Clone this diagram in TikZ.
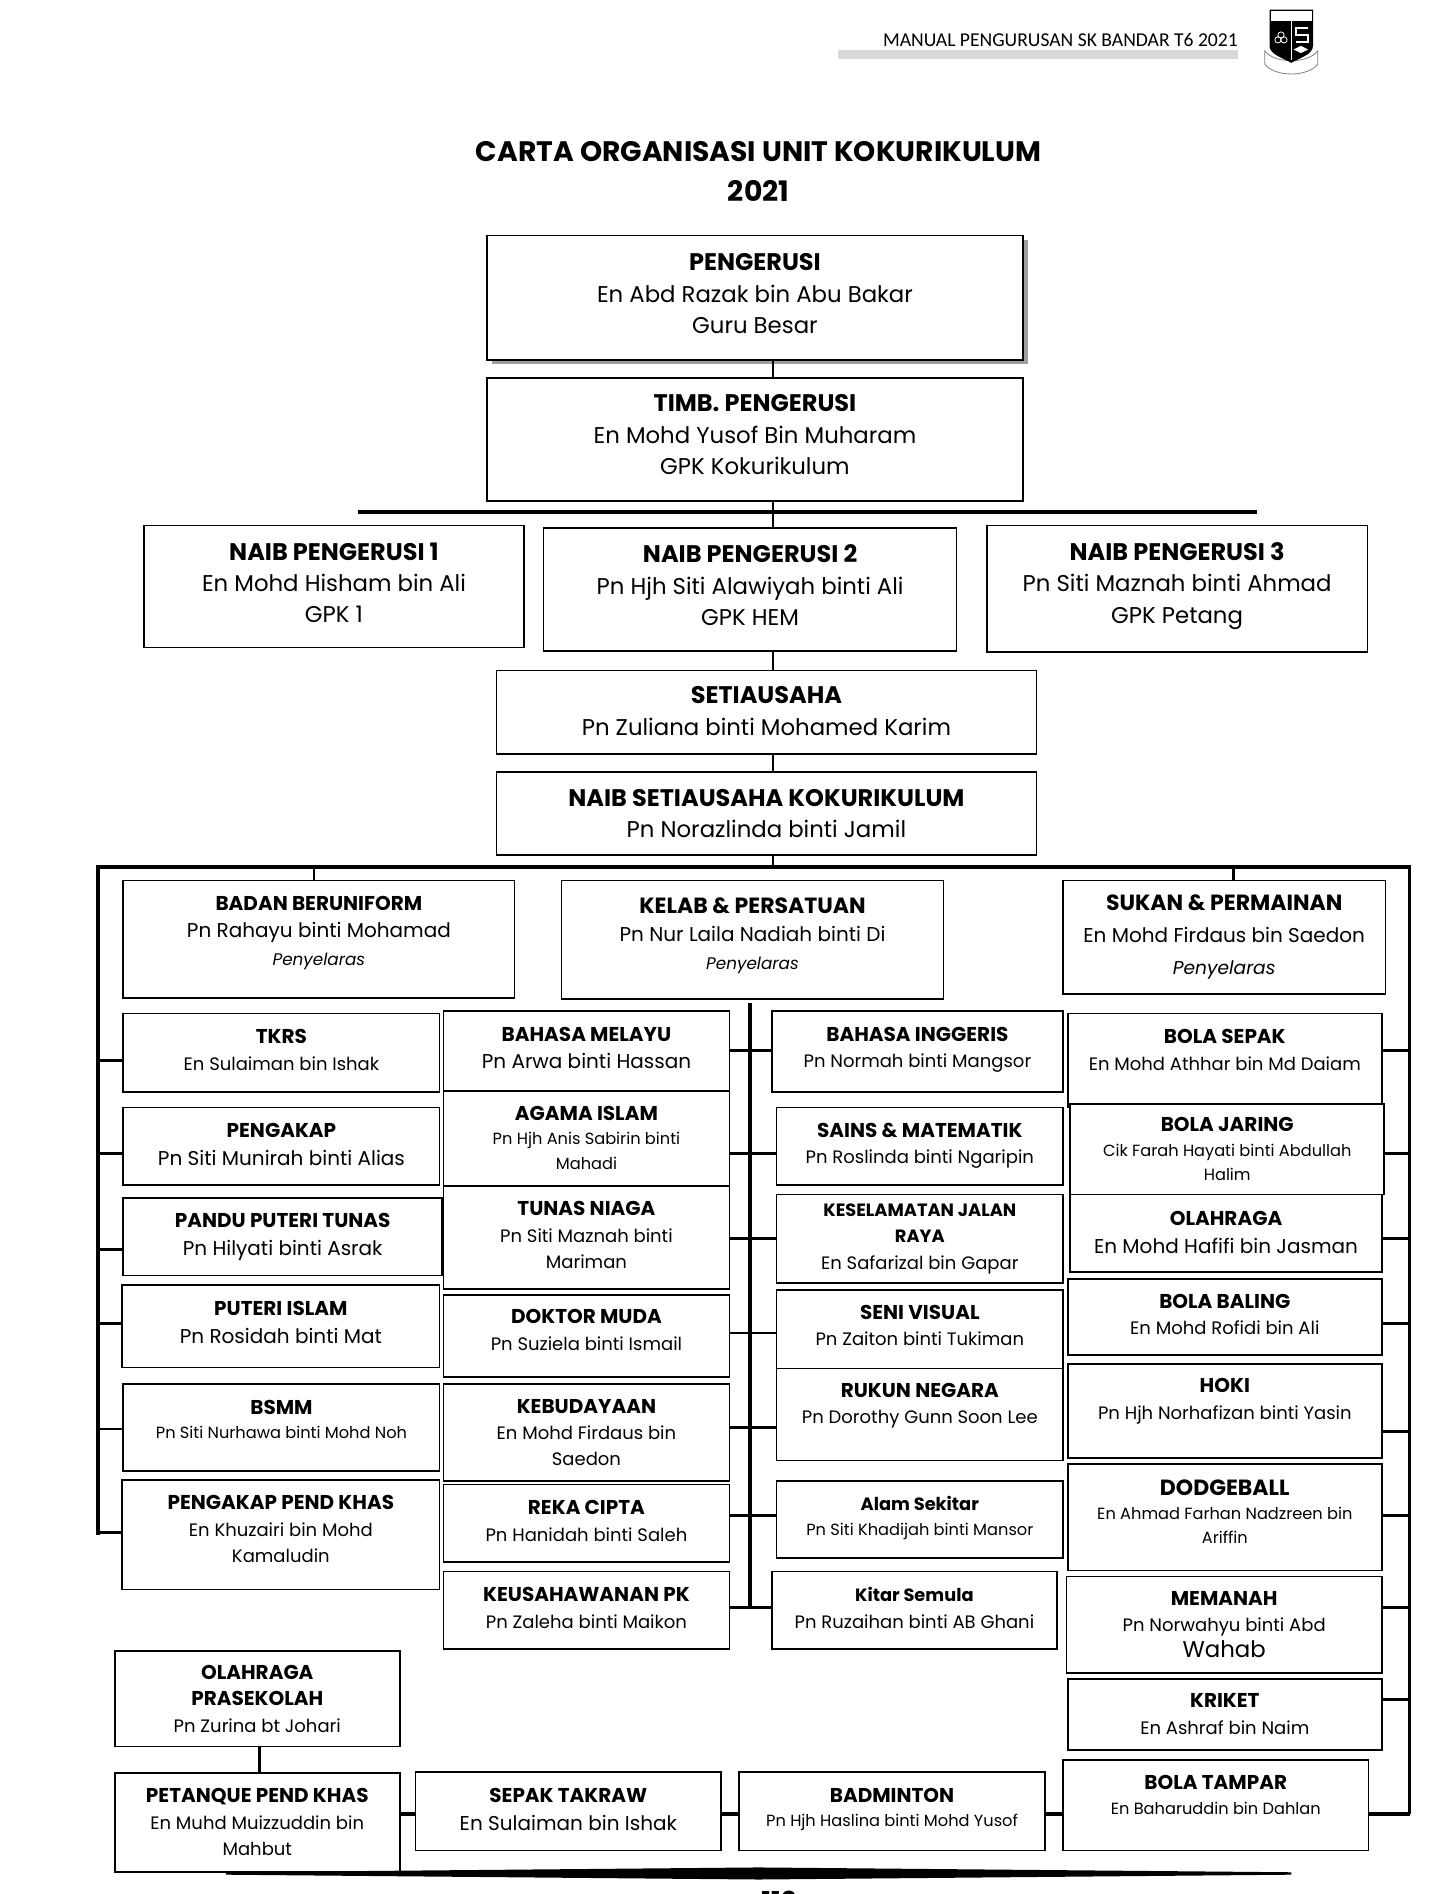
\documentclass[tikz,border=0pt]{standalone}
\usepackage{fontspec}
\usepackage{xcolor}
\usetikzlibrary{shadows}
\setmainfont{Poppins}
\newfontfamily\headfont{Carlito}
\newdimen\pxunit
\pxunit=0.6038pt
\newcommand{\hdS}[1]{{\fontsize{8.9pt}{13pt}\selectfont\bfseries #1}}
\newcommand{\hd}[1]{{\fontsize{10pt}{13pt}\selectfont\bfseries #1}}
\newcommand{\hdL}[1]{{\fontsize{11pt}{13pt}\selectfont\bfseries #1}}
\newcommand{\hdT}[1]{{\fontsize{12pt}{13pt}\selectfont\bfseries #1}}
\newcommand{\role}[1]{{\fontsize{8.4pt}{11pt}\selectfont\itshape #1}}
\newcommand{\roleL}[1]{{\fontsize{9.3pt}{11pt}\selectfont\itshape #1}}
\newcommand{\nameL}[1]{{\fontsize{11.4pt}{13pt}\selectfont #1}}
\definecolor{shadowgray}{HTML}{9E9E9E}
\definecolor{ribbongray}{HTML}{D9D9D9}
\tikzset{
	box/.style={draw,line width=0.8pt,inner sep=0pt,align=center,fill=white},
	dim/.style 2 args={minimum width=#1*0.6038pt,minimum height=#2*0.6038pt},
	lift/.style={execute at end node={\rule[-#1\pxunit]{0pt}{0pt}}},
	sizeA/.style={font=\fontsize{11.4pt}{15.7pt}\selectfont},
	sizeB/.style={font=\fontsize{10pt}{13.9pt}\selectfont},
	sizeBw/.style={font=\fontsize{10pt}{16pt}\selectfont},
	sizeC/.style={font=\fontsize{9pt}{13.2pt}\selectfont},
	sizeD/.style={font=\fontsize{8.1pt}{12.2pt}\selectfont},
	barline/.style={line width=1.8pt},
	thinbar/.style={line width=1.4pt},
	stemline/.style={line width=1.4pt},
	tie/.style={line width=1.4pt},
	tiethick/.style={line width=2pt},
}
\begin{document}
\begin{tikzpicture}[x=0.6038pt,y=-0.6038pt]
		\useasboundingbox (0,0) rectangle (1199,1568);
		% page header
		\fill[ribbongray] (694,41) rectangle (1025,49);
		\node[anchor=east,inner sep=0pt,font=\headfont\fontsize{9.8pt}{12pt}\selectfont] (header) at (1025,33) {MANUAL PENGURUSAN SK BANDAR T6 2021};
		\draw[gray,line width=0.4pt,fill=white] (1047,42) .. controls (1055,53) and (1083,53) .. (1091,42) -- (1091,53) .. controls (1083,64) and (1055,64) .. (1047,53) -- cycle;
		\fill[black] (1051,8) -- (1087,8) -- (1087,38) .. controls (1087,45) and (1076,48) .. (1069,52) .. controls (1062,48) and (1051,45) .. (1051,38) -- cycle;
		\fill[white] (1052,9) rectangle (1086,17);
		\draw[white,line width=0.6pt] (1069,17) -- (1069,50);
		\draw[white,line width=0.9pt] (1083,23) -- (1073,23) -- (1073,29) -- (1083,29) -- (1083,35) -- (1073,35);
		\draw[white,line width=0.4pt] (1058,33) circle (2.6);
		\draw[white,line width=0.4pt] (1063,33) circle (2.6);
		\draw[white,line width=0.4pt] (1060.5,29) circle (2.6);
		\fill[white] (1071,41) -- (1077,38) -- (1083,41) -- (1077,44) -- cycle;
		% title
		\node[align=center,inner sep=0pt,font=\fontsize{14.1pt}{20pt}\selectfont\bfseries] (title) at (628,142) {CARTA ORGANISASI UNIT KOKURIKULUM\\2021};

		% committee at the top
		\node[box,dim={444}{103},sizeA,lift=7,drop shadow={shadow xshift=2.4pt,shadow yshift=-2pt,fill=shadowgray,opacity=1}] (pengerusi) at (625,246.5) {\hdT{PENGERUSI}\\En Abd Razak bin Abu Bakar\\Guru Besar};
		\node[box,dim={444}{102},sizeA,lift=8] (timb) at (625,364) {\hdT{TIMB. PENGERUSI}\\En Mohd Yusof Bin Muharam\\GPK Kokurikulum};
		\node[box,dim={315}{101},sizeA,lift=6] (naib1) at (276.5,485.5) {\hdT{NAIB PENGERUSI 1}\\En Mohd Hisham bin Ali\\GPK 1};
		\node[box,dim={342}{102},sizeA,lift=7] (naib2) at (621,488) {\hdT{NAIB PENGERUSI 2}\\Pn Hjh Siti Alawiyah binti Ali\\GPK HEM};
		\node[box,dim={315}{105},sizeA,lift=10] (naib3) at (974.5,487.5) {\hdT{NAIB PENGERUSI 3}\\Pn Siti Maznah binti Ahmad\\GPK Petang};
		\node[box,dim={447}{69},sizeA,lift=2] (setia) at (634.5,589.5) {\hdT{SETIAUSAHA}\\Pn Zuliana binti Mohamed Karim};
		\node[box,dim={447}{69},sizeA] (naibsetia) at (634.5,673.5) {\hdT{NAIB SETIAUSAHA KOKURIKULUM}\\Pn Norazlinda binti Jamil};

		% three units
		\node[box,dim={324}{97},sizeB,lift=14] (uniform) at (264,777.5) {\hd{BADAN BERUNIFORM}\\Pn Rahayu binti Mohamad\\\role{Penyelaras}};
		\node[box,dim={316}{98},sizeB,lift=10] (kelab) at (623,778) {\hdL{KELAB \& PERSATUAN}\\Pn Nur Laila Nadiah binti Di\\\role{Penyelaras}};
		\node[box,dim={267}{94},sizeBw,lift=3] (sukan) at (1013.5,776) {\hdL{SUKAN \& PERMAINAN}\\En Mohd Firdaus bin Saedon\\\roleL{Penyelaras}};

		% left column
		\node[box,dim={262}{65},sizeC,lift=5] (tkrs) at (233,871.5) {\hd{TKRS}\\En Sulaiman bin Ishak};
		\node[box,dim={262}{64},sizeB,lift=3] (pengakap) at (233,949) {\hd{PENGAKAP}\\Pn Siti Munirah binti Alias};
		\node[box,dim={264}{64},sizeB,lift=2] (pandu) at (234,1024) {\hd{PANDU PUTERI TUNAS}\\Pn Hilyati binti Asrak};
		\node[box,dim={263}{68},sizeB,lift=7] (puteri) at (232.5,1098) {\hd{PUTERI ISLAM}\\Pn Rosidah binti Mat};
		\node[box,dim={262}{72},sizeD,lift=14] (bsmm) at (233,1182) {\hd{BSMM}\\Pn Siti Nurhawa binti Mohd Noh};
		\node[box,dim={263}{91},sizeC,lift=9] (pengakapkhas) at (232.5,1270.5) {\hd{PENGAKAP PEND KHAS}\\En Khuzairi bin Mohd\\Kamaludin};

		% second column
		\node[box,dim={237}{66},sizeB,lift=5] (melayu) at (485.5,870) {\hd{BAHASA MELAYU}\\Pn Arwa binti Hassan};
		\node[box,dim={237}{79},sizeD,lift=1] (agama) at (485.5,942.5) {\hd{AGAMA ISLAM}\\Pn Hjh Anis Sabirin binti\\Mahadi};
		\node[box,dim={237}{85},sizeC,lift=4] (tunas) at (485.5,1024.5) {\hd{TUNAS NIAGA}\\Pn Siti Maznah binti\\Mariman};
		\node[box,dim={237}{68},sizeC,lift=10] (doktor) at (485.5,1106) {\hd{DOKTOR MUDA}\\Pn Suziela binti Ismail};
		\node[box,dim={237}{80},sizeC] (budaya) at (485.5,1186) {\hd{KEBUDAYAAN}\\En Mohd Firdaus bin\\Saedon};
		\node[box,dim={237}{64},sizeC,lift=4] (reka) at (485.5,1261) {\hd{REKA CIPTA}\\Pn Hanidah binti Saleh};
		\node[box,dim={237}{64},sizeC,lift=4] (usahawan) at (485.5,1333) {\hd{KEUSAHAWANAN PK}\\Pn Zaleha binti Maikon};

		% third column
		\node[box,dim={241}{67},sizeC,lift=7] (inggeris) at (759.5,870.5) {\hd{BAHASA INGGERIS}\\Pn Normah binti Mangsor};
		\node[box,dim={237}{64},sizeC,lift=5] (sains) at (761.5,949) {\hd{SAINS \& MATEMATIK}\\Pn Roslinda binti Ngaripin};
		\node[box,dim={237}{73},sizeC] (jalan) at (761.5,1025.5) {\hdS{KESELAMATAN JALAN}\\\hdS{RAYA}\\En Safarizal bin Gapar};
		\node[box,dim={237}{65},sizeC,lift=7] (visual) at (761.5,1100.5) {\hd{SENI VISUAL}\\Pn Zaiton binti Tukiman};
		\node[box,dim={237}{76},sizeC,lift=18] (rukun) at (761.5,1171) {\hd{RUKUN NEGARA}\\Pn Dorothy Gunn Soon Lee};
		\node[box,dim={237}{64},sizeD,lift=6] (alam) at (761.5,1258) {\hdS{Alam Sekitar}\\Pn Siti Khadijah binti Mansor};
		\node[box,dim={236}{64},sizeC,lift=4] (kitar) at (757,1333) {\hdS{Kitar Semula}\\Pn Ruzaihan binti AB Ghani};

		% right column
		\node[box,dim={260}{78},sizeC,lift=18] (bolasepak) at (1014,878) {\hd{BOLA SEPAK}\\En Mohd Athhar bin Md Daiam};
		\node[box,dim={260}{75},sizeD] (jaring) at (1016,951.5) {\hd{BOLA JARING}\\Cik Farah Hayati binti Abdullah\\Halim};
		\node[box,dim={258}{64},sizeB,lift=1] (olahraga) at (1015,1021) {\hd{OLAHRAGA}\\En Mohd Hafifi bin Jasman};
		\node[box,dim={260}{63},sizeC,lift=5] (baling) at (1014,1090.5) {\hd{BOLA BALING}\\En Mohd Rofidi bin Ali};
		\node[box,dim={260}{78},sizeC,lift=20] (hoki) at (1014,1168) {\hd{HOKI}\\Pn Hjh Norhafizan binti Yasin};
		\node[box,dim={260}{88},sizeD,lift=9] (dodgeball) at (1014,1256) {\hdL{DODGEBALL}\\En Ahmad Farhan Nadzreen bin\\Ariffin};
		\node[box,dim={261}{80},sizeC] (memanah) at (1013.5,1345) {\hd{MEMANAH}\\Pn Norwahyu binti Abd\\\nameL{Wahab}};
		\node[box,dim={260}{59},sizeC,lift=1] (kriket) at (1014,1419.5) {\hd{KRIKET}\\En Ashraf bin Naim};

		% bottom row
		\node[box,dim={236}{79},sizeC] (prasekolah) at (213,1406.5) {\hd{OLAHRAGA}\\\hd{PRASEKOLAH}\\Pn Zurina bt Johari};
		\node[box,dim={236}{82},sizeC,lift=1] (petanque) at (213,1509) {\hd{PETANQUE PEND KHAS}\\En Muhd Muizzuddin bin\\Mahbut};
		\node[box,dim={253}{65},sizeB,lift=3] (takraw) at (470.5,1499.5) {\hd{SEPAK TAKRAW}\\En Sulaiman bin Ishak};
		\node[box,dim={253}{65},sizeD,lift=6] (badminton) at (738.5,1499.5) {\hd{BADMINTON}\\Pn Hjh Haslina binti Mohd Yusof};
		\node[box,dim={253}{75},sizeD,lift=17] (tampar) at (1006.5,1494.5) {\hd{BOLA TAMPAR}\\En Baharuddin bin Dahlan};

		% free ends of the bars
		\coordinate (stem) at (640,424);
		\coordinate (naibL) at (296,424);
		\coordinate (naibR) at (1041,424);
		\coordinate (unitL) at (81,718);
		\coordinate (unitR) at (1167,718);
		\coordinate (unitLend) at (81,1269);
		\coordinate (unitRend) at (1167,1502);
		\coordinate (midT) at (621,830);
		\coordinate (midB) at (621,1331);

		% stems down the committee
		\draw[tiethick] (naibL) -- (naibR);
		\draw[stemline] (pengerusi.south -| stem) -- (timb.north -| stem);
		\draw[stemline] (timb.south -| stem) -- (naib2.north -| stem);
		\draw[stemline] (naib2.south -| stem) -- (setia.north -| stem);
		\draw[stemline] (setia.south -| stem) -- (naibsetia.north -| stem);
		\draw[stemline] (naibsetia.south -| stem) -- (unitL -| stem);

		% bars round the units
		\draw[barline,line cap=rect] (unitLend) -- (unitL) -- (unitR);
		\draw[thinbar] (unitR) -- (unitRend);
		\draw[barline] (midT) -- (midB);
		\draw[stemline] (uniform.north -| 260,0) -- (unitL -| 260,0);
		\draw[stemline] (sukan.north -| 1021,0) -- (unitL -| 1021,0);

		% left column to left bar
		\draw[tie] (tkrs.west |- 0,878) -- (unitL |- 0,878);
		\draw[tie] (pengakap.west |- 0,955) -- (unitL |- 0,955);
		\draw[tie] (pandu.west |- 0,1034.5) -- (unitL |- 0,1034.5);
		\draw[tie] (puteri.west |- 0,1095.5) -- (unitL |- 0,1095.5);
		\draw[tie] (bsmm.west |- 0,1183) -- (unitL |- 0,1183);
		\draw[tie] (pengakapkhas.west |- unitLend) -- (unitLend);

		% columns two and three to middle bar
		\draw[tie] (melayu.east |- 0,869.5) -- (inggeris.west |- 0,869.5);
		\draw[tie] (agama.east |- 0,955) -- (sains.west |- 0,955);
		\draw[tie] (tunas.east |- 0,1025) -- (jalan.west |- 0,1025);
		\draw[tie] (doktor.east |- 0,1103.5) -- (visual.west |- 0,1103.5);
		\draw[tie] (budaya.east |- 0,1182) -- (rukun.west |- 0,1182);
		\draw[tie] (reka.east |- 0,1254.5) -- (alam.west |- 0,1254.5);
		\draw[tie] (usahawan.east |- midB) -- (kitar.west |- midB);

		% right column to right bar
		\draw[tie] (bolasepak.east |- 0,869.5) -- (unitR |- 0,869.5);
		\draw[tie] (jaring.east |- 0,955) -- (unitR |- 0,955);
		\draw[tie] (olahraga.east |- 0,1025) -- (unitR |- 0,1025);
		\draw[tie] (baling.east |- 0,1096) -- (unitR |- 0,1096);
		\draw[tie] (hoki.east |- 0,1185) -- (unitR |- 0,1185);
		\draw[tie] (dodgeball.east |- 0,1254.5) -- (unitR |- 0,1254.5);
		\draw[tie] (memanah.east |- 0,1331) -- (unitR |- 0,1331);
		\draw[tie] (kriket.east |- 0,1407) -- (unitR |- 0,1407);

		% bottom row
		\draw[stemline] (prasekolah.south -| 215,0) -- (petanque.north -| 215,0);
		\draw[tiethick] (petanque.east |- 0,1502) -- (takraw.west |- 0,1502);
		\draw[tiethick] (takraw.east |- 0,1502) -- (badminton.west |- 0,1502);
		\draw[tiethick] (badminton.east |- 0,1502) -- (tampar.west |- 0,1502);
		\draw[tiethick] (tampar.east |- unitRend) -- (unitRend);

		% page foot
		\fill (187,1550) -- (628,1546) -- (1069,1550) -- (1069,1552) -- (628,1556) -- (187,1552) -- cycle;
		\node[font=\fontsize{13pt}{14pt}\selectfont\bfseries,inner sep=0pt] (pagenum) at (645,1574) {113};
	\end{tikzpicture}
\end{document}
